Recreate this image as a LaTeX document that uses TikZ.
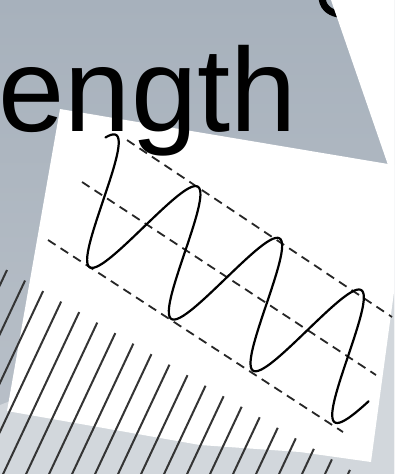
\documentclass[tikz,border=0pt]{standalone}
\usepackage{fontspec}
\setmainfont{Liberation Sans}
\usepackage{tikz}
\usetikzlibrary{calc}
\definecolor{slategray}{RGB}{167,177,188}
\definecolor{slatelight}{RGB}{186,193,201}
\definecolor{floorgray}{RGB}{210,215,220}
\definecolor{hatchgray}{RGB}{52,52,52}
\tikzset{
  guideline/.style={dash pattern=on 9pt off 6pt,line width=1.8pt,draw=black!85},
  waveline/.style={line width=2.2pt,draw=black,line join=round,line cap=round},
  hatchline/.style={line width=2pt,draw=hatchgray},
  titletext/.style={font=\fontsize{119}{119}\selectfont,inner sep=0pt,anchor=base west}
}

\begin{document}
\begin{tikzpicture}[x=1pt,y=-1pt]
  \useasboundingbox (0,0) rectangle (394,474);
  % backdrop
  \shade[top color=slategray,bottom color=slatelight] (0,0) rectangle (394,474);
  \draw[line width=7pt] (322,-4) .. controls (322,6) and (328,12) .. (338,14);
  \fill[white] (331,0) -- (394,0) -- (394,300) -- (388,165) -- cycle;
  \fill[floorgray] (0,405) -- (394,250) -- (394,474) -- (0,474) -- cycle;
  % card
  \fill[white] (60,109) -- (394,165) -- (394,292) -- (371,462) -- (300,452)
    -- (200,445) -- (7,411) -- cycle;
  % hatching
  \foreach \k in {0,...,19}{
    \pgfmathsetmacro{\hx}{7+18.05*\k}
    \pgfmathsetmacro{\hy}{270+10.52*\k}
    \draw[hatchline] (\hx,\hy) -- ({\hx-0.47*(480-\hy)},480);
  }
  % guides
  \coordinate (crestA) at (127,140);  \coordinate (crestB) at (392,317);
  \coordinate (axisA) at (82,182);    \coordinate (axisB) at (376,375);
  \coordinate (troughA) at (48,240);  \coordinate (troughB) at (343,432);
  \draw[guideline] (crestA) -- (crestB);
  \draw[guideline] (axisA) -- (axisB);
  \draw[guideline] (troughA) -- (troughB);
  % wave
  \draw[waveline] plot[domain=-0.08:3.68,samples=220,smooth,variable=\t]
    ({116.2+81.7*\t-33.7*(1-cos(360*\t))},{135+51.7*\t+53.2*(1-cos(360*\t))});
  % title
  \node[titletext] (title) at (-1.5,131.5) {ength};
\end{tikzpicture}
\end{document}
